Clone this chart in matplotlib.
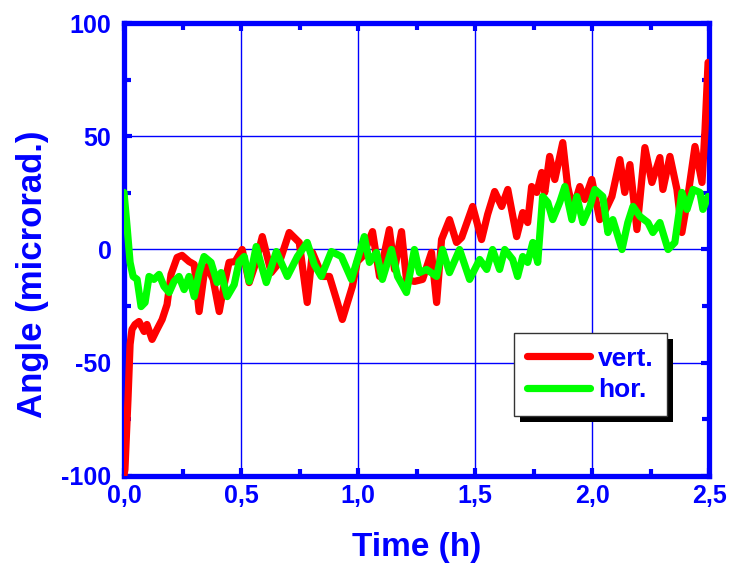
import numpy as np
import matplotlib
matplotlib.use("Agg")
import matplotlib.pyplot as plt
from matplotlib import font_manager
from matplotlib.ticker import MultipleLocator, FuncFormatter
from matplotlib.patches import Rectangle
from matplotlib.transforms import IdentityTransform

# time in hours, angle in microrad
vert_t = [0.000, 0.004, 0.017, 0.026, 0.034, 0.047, 0.064, 0.086, 0.098, 0.120,
          0.141, 0.163, 0.184, 0.201, 0.227, 0.248, 0.278, 0.300, 0.321, 0.342,
          0.355, 0.381, 0.407, 0.428, 0.449, 0.475, 0.505, 0.535, 0.561, 0.591,
          0.629, 0.664, 0.706, 0.749, 0.783, 0.805, 0.848, 0.878, 0.908, 0.933,
          0.976, 0.997, 1.019, 1.062, 1.092, 1.134, 1.156, 1.186, 1.207, 1.241,
          1.276, 1.314, 1.336, 1.357, 1.391, 1.421, 1.443, 1.490, 1.528, 1.554,
          1.584, 1.614, 1.640, 1.678, 1.704, 1.725, 1.742, 1.764, 1.785, 1.798,
          1.819, 1.841, 1.875, 1.896, 1.918, 1.948, 1.969, 1.999, 2.033, 2.055,
          2.085, 2.119, 2.140, 2.162, 2.192, 2.226, 2.256, 2.290, 2.303, 2.333,
          2.363, 2.384, 2.406, 2.440, 2.470, 2.483, 2.496]
vert_a = [-99.5, -97.1, -66.2, -41.9, -35.3, -33.1, -31.8, -36.2, -33.1, -39.7,
          -35.3, -30.9, -24.3, -11.0, -3.5, -2.6, -5.3, -6.6, -27.4, -11.0,
          -7.5, -13.2, -27.4, -15.5, -5.7, -5.3, 0.0, -14.6, -6.6, 5.7,
          -10.2, -5.7, 7.5, 3.1, -23.4, -1.3, -11.9, -11.9, -22.1, -30.9,
          -16.3, -5.3, -3.1, 7.9, -11.9, 8.8, -8.8, 7.9, -13.2, -14.1,
          -13.2, -1.3, -23.4, 4.4, 13.2, 3.1, 5.3, 19.0, 4.4, 15.5,
          25.6, 19.0, 26.5, 5.7, 16.3, 11.9, 27.8, 25.2, 34.0, 25.2,
          41.1, 30.9, 47.2, 27.8, 17.7, 27.8, 22.1, 30.9, 13.2, 16.8,
          23.4, 39.7, 25.2, 37.5, 8.8, 45.0, 29.6, 40.6, 26.5, 41.1,
          26.5, 7.5, 20.8, 45.5, 29.6, 53.0, 82.6]

hor_t = [0.000, 0.013, 0.026, 0.039, 0.056, 0.073, 0.090, 0.107, 0.128, 0.150,
         0.171, 0.193, 0.214, 0.235, 0.257, 0.278, 0.300, 0.321, 0.342, 0.372,
         0.398, 0.415, 0.441, 0.471, 0.492, 0.514, 0.535, 0.565, 0.586, 0.608,
         0.651, 0.698, 0.741, 0.783, 0.813, 0.843, 0.886, 0.929, 0.972, 1.027,
         1.049, 1.079, 1.104, 1.143, 1.169, 1.207, 1.241, 1.263, 1.293, 1.336,
         1.361, 1.391, 1.434, 1.477, 1.520, 1.550, 1.575, 1.605, 1.627, 1.661,
         1.682, 1.704, 1.725, 1.747, 1.768, 1.789, 1.811, 1.832, 1.862, 1.884,
         1.914, 1.935, 1.961, 1.991, 2.012, 2.046, 2.068, 2.089, 2.128, 2.153,
         2.175, 2.205, 2.239, 2.260, 2.290, 2.325, 2.354, 2.384, 2.406, 2.432,
         2.461, 2.474, 2.496]
hor_a = [25.2, 10.2, -5.7, -11.9, -13.2, -25.2, -23.4, -11.9, -13.2, -11.0,
         -16.3, -19.0, -14.1, -11.9, -17.7, -11.9, -20.8, -10.2, -3.1, -5.7,
         -14.6, -10.2, -20.8, -15.5, -5.3, -3.1, -14.1, 1.3, -6.6, -14.6,
         -0.9, -11.9, -3.1, 3.1, -6.6, -11.9, -0.9, -3.1, -13.2, 5.7,
         -5.7, -1.3, -13.2, 0.0, -11.9, -19.0, 0.0, -10.2, -8.8, -11.9,
         0.0, -10.2, 0.0, -13.2, -4.4, -8.8, 0.0, -8.8, 0.0, -4.4,
         -11.9, -3.1, -5.7, 3.1, -5.7, 23.4, 20.8, 13.2, 20.8, 27.8,
         13.2, 23.4, 11.9, 19.0, 26.5, 23.4, 7.5, 13.2, 0.0, 11.9,
         19.0, 14.6, 11.9, 7.5, 11.9, 0.0, 3.1, 25.2, 17.7, 26.5,
         25.2, 17.7, 23.4]

x_ticks = [0.0, 0.5, 1.0, 1.5, 2.0, 2.5]
y_ticks = [-100, -50, 0, 50, 100]

blue = "#0000ff"
plt.rcParams['font.family'] = ['Liberation Sans', 'DejaVu Sans']
plt.rcParams['font.weight'] = 'bold'
plt.rcParams['axes.unicode_minus'] = False

# the axis titles in the original are a tall, condensed face
installed = {f.name for f in font_manager.fontManager.ttflist}
narrow = 'Liberation Sans Narrow' in installed
label_family = ['Liberation Sans Narrow', 'Liberation Sans'] if narrow else ['Liberation Sans']
ylab_size = 30 if narrow else 25
xlab_size = 26 if narrow else 24

fig = plt.figure(figsize=(7.32, 5.71), dpi=100)
ax = fig.add_axes([0.1694, 0.1664, 0.7992, 0.7933])

ax.plot(vert_t, vert_a, color="#ff0000", lw=5.2, solid_joinstyle="round",
        solid_capstyle="round", label="vert.", zorder=3)
ax.plot(hor_t, hor_a, color="#00ff00", lw=5.2, solid_joinstyle="round",
        solid_capstyle="round", label="hor.", zorder=3)

ax.set_xlim(0, 2.5)
ax.set_ylim(-100, 100)
ax.set_xticks(x_ticks)
ax.set_yticks(y_ticks)
ax.xaxis.set_minor_locator(MultipleLocator(0.25))
ax.yaxis.set_minor_locator(MultipleLocator(25))
ax.xaxis.set_major_formatter(FuncFormatter(lambda v, p: f"{v:.1f}".replace(".", ",")))

ax.grid(True, which="major", color=blue, lw=1)
ax.set_axisbelow(True)
for s in ax.spines.values():
    s.set_color(blue)
    s.set_linewidth(3.8)

ax.tick_params(which="both", direction="in", top=True, right=True,
               color=blue, width=3)
ax.tick_params(which="major", length=6, labelsize=18, labelcolor=blue)
ax.tick_params(which="minor", length=5)
ax.tick_params(axis="x", pad=6)
ax.tick_params(axis="y", pad=9)
for lab in ax.get_xticklabels() + ax.get_yticklabels():
    lab.set_fontweight("bold")

ax.set_xlabel("Time (h)", fontsize=xlab_size, fontweight="bold", color=blue,
              family=label_family, labelpad=17)
ax.set_ylabel("Angle (microrad.)", fontsize=ylab_size, fontweight="bold",
              color=blue, family=label_family)
ax.yaxis.set_label_coords(-0.128, 0.446)

leg = ax.legend(loc="center", bbox_to_anchor=(0.797, 0.224), fontsize=19,
                fancybox=False, shadow=False,
                handlelength=2.4, handletextpad=0.3, borderpad=0.5,
                labelspacing=0.3, framealpha=1, edgecolor="#333333")
leg.get_frame().set_linewidth(1)
for txt in leg.get_texts():
    txt.set_color(blue)
    txt.set_fontweight("bold")

# hard black drop shadow behind the legend box
fig.canvas.draw()
bb = leg.get_window_extent()
ax.add_patch(Rectangle((bb.x0 + 6, bb.y0 - 6), bb.width, bb.height,
                       transform=IdentityTransform(), facecolor="black",
                       edgecolor="none", zorder=4.9, clip_on=False))

fig.savefig("out.png", dpi=100)
